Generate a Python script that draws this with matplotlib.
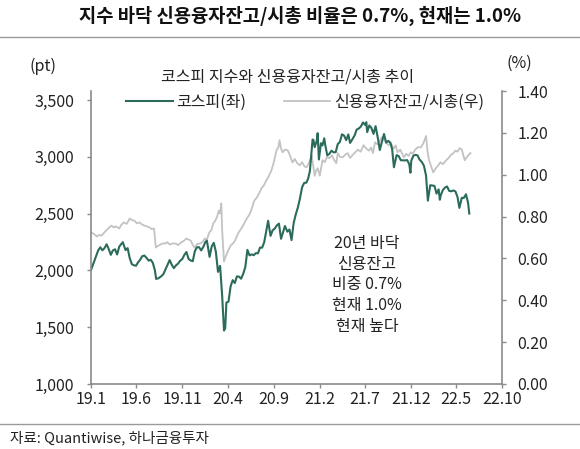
import matplotlib
matplotlib.use("Agg")
import matplotlib.pyplot as plt
from matplotlib.lines import Line2D
import pandas as pd

plt.rcParams['font.family'] = ['Noto Sans CJK KR', 'DejaVu Sans']

# ---------------- data ----------------
kospi_dates = [
    "2019-01-02","2019-01-11","2019-01-18","2019-01-25","2019-02-01","2019-02-08","2019-02-15","2019-02-22",
    "2019-02-28","2019-03-08","2019-03-15","2019-03-22","2019-03-29","2019-04-05","2019-04-12","2019-04-17",
    "2019-04-26","2019-05-03","2019-05-10","2019-05-17","2019-05-24","2019-05-31","2019-06-07","2019-06-14",
    "2019-06-21","2019-06-28","2019-07-05","2019-07-12","2019-07-19","2019-07-26","2019-08-02","2019-08-06",
    "2019-08-13","2019-08-23","2019-08-30","2019-09-06","2019-09-13","2019-09-20","2019-09-27","2019-10-04",
    "2019-10-11","2019-10-18","2019-10-25","2019-11-01","2019-11-08","2019-11-15","2019-11-22","2019-11-29",
    "2019-12-06","2019-12-13","2019-12-20","2019-12-27",
    "2020-01-03","2020-01-10","2020-01-17","2020-01-22","2020-01-31","2020-02-07","2020-02-14","2020-02-21",
    "2020-02-28","2020-03-06","2020-03-13","2020-03-19","2020-03-23","2020-03-27","2020-04-03","2020-04-10",
    "2020-04-17","2020-04-24","2020-05-01","2020-05-08","2020-05-15","2020-05-22","2020-05-29","2020-06-05",
    "2020-06-12","2020-06-19","2020-06-26","2020-07-03","2020-07-10","2020-07-17","2020-07-24","2020-07-31",
    "2020-08-07","2020-08-13","2020-08-21","2020-08-28","2020-09-04","2020-09-11","2020-09-18","2020-09-25",
    "2020-10-08","2020-10-16","2020-10-23","2020-10-30","2020-11-06","2020-11-13","2020-11-20","2020-11-27",
    "2020-12-04","2020-12-11","2020-12-18","2020-12-24","2020-12-30",
    "2021-01-08","2021-01-11","2021-01-15","2021-01-22","2021-01-25","2021-01-29","2021-02-05","2021-02-10",
    "2021-02-16","2021-02-19","2021-02-26","2021-03-05","2021-03-12","2021-03-19","2021-03-26","2021-04-02",
    "2021-04-09","2021-04-16","2021-04-23","2021-04-30","2021-05-07","2021-05-13","2021-05-21","2021-05-28",
    "2021-06-04","2021-06-11","2021-06-18","2021-06-25","2021-07-02","2021-07-06","2021-07-09","2021-07-16",
    "2021-07-23","2021-07-30","2021-08-06","2021-08-13","2021-08-20","2021-08-27","2021-09-03","2021-09-10",
    "2021-09-17","2021-09-24","2021-09-30","2021-10-06","2021-10-15","2021-10-22","2021-10-29","2021-11-05",
    "2021-11-12","2021-11-19","2021-11-26","2021-11-30","2021-12-03","2021-12-10","2021-12-17","2021-12-24",
    "2021-12-30",
    "2022-01-07","2022-01-14","2022-01-21","2022-01-27","2022-02-04","2022-02-11","2022-02-18","2022-02-25",
    "2022-03-04","2022-03-08","2022-03-11","2022-03-18","2022-03-25","2022-04-01","2022-04-08","2022-04-15",
    "2022-04-22","2022-04-29","2022-05-06","2022-05-12","2022-05-20","2022-05-27","2022-06-03","2022-06-10",
    "2022-06-14",
]
kospi_values = [
    2010, 2075, 2125, 2177, 2203, 2177, 2196, 2230,
    2195, 2137, 2176, 2186, 2140, 2209, 2233, 2248,
    2179, 2196, 2108, 2055, 2045, 2041, 2072, 2095,
    2126, 2130, 2110, 2086, 2094, 2066, 1998, 1925,
    1930, 1948, 1967, 2009, 2049, 2091, 2049, 2020,
    2044, 2060, 2085, 2100, 2137, 2162, 2101, 2087,
    2081, 2170, 2204, 2204,
    2176, 2206, 2250, 2262, 2119, 2211, 2243, 2162,
    1987, 2040, 1771, 1470, 1490, 1717, 1725, 1860,
    1914, 1889, 1947, 1945, 1927, 1970, 2029, 2181,
    2132, 2141, 2134, 2152, 2150, 2201, 2200, 2249,
    2351, 2437, 2304, 2353, 2368, 2396, 2412, 2278,
    2391, 2341, 2360, 2267, 2416, 2493, 2553, 2633,
    2731, 2770, 2772, 2806, 2873,
    3152, 3148, 3085, 3140, 3208, 2976, 3120, 3100,
    3163, 3107, 3013, 3026, 3054, 3039, 3041, 3112,
    3131, 3198, 3186, 3147, 3197, 3122, 3156, 3188,
    3240, 3249, 3267, 3302, 3281, 3305, 3217, 3276,
    3254, 3202, 3270, 3171, 3060, 3133, 3201, 3125,
    3140, 3125, 3068, 2908, 3015, 3006, 2970, 2969,
    2968, 2971, 2936, 2860, 2968, 3010, 3017, 3012,
    2977,
    2954, 2921, 2834, 2614, 2750, 2747, 2744, 2676,
    2713, 2622, 2661, 2707, 2729, 2739, 2700, 2696,
    2704, 2695, 2644, 2550, 2639, 2638, 2670, 2595,
    2500,
]

ratio_dates = [
    "2019-01-02","2019-01-12","2019-01-20","2019-01-28","2019-02-05","2019-02-13","2019-02-20","2019-03-01",
    "2019-03-10","2019-03-18","2019-03-25","2019-04-05","2019-04-12","2019-04-20","2019-04-30","2019-05-10",
    "2019-05-18","2019-05-25","2019-06-03","2019-06-12","2019-06-20","2019-06-28","2019-07-08","2019-07-15",
    "2019-07-22","2019-07-30","2019-08-05","2019-08-12","2019-08-20","2019-08-28","2019-09-05","2019-09-12",
    "2019-09-20","2019-09-30","2019-10-10","2019-10-18","2019-10-28","2019-11-06","2019-11-15","2019-11-22",
    "2019-11-29","2019-12-06","2019-12-12","2019-12-20","2019-12-30",
    "2020-01-08","2020-01-15","2020-01-22","2020-01-30","2020-02-06","2020-02-12","2020-02-18","2020-02-24",
    "2020-03-02","2020-03-06","2020-03-10","2020-03-13","2020-03-16","2020-03-19","2020-03-25","2020-04-02",
    "2020-04-10","2020-04-18","2020-04-25","2020-05-05","2020-05-18","2020-05-28","2020-06-05","2020-06-12",
    "2020-06-20","2020-06-28","2020-07-06","2020-07-14","2020-07-22","2020-07-30","2020-08-07","2020-08-14",
    "2020-08-24","2020-09-01","2020-09-10","2020-09-16","2020-09-20","2020-09-25","2020-09-30","2020-10-08",
    "2020-10-17","2020-10-24","2020-11-02","2020-11-10","2020-11-18","2020-11-26","2020-12-04","2020-12-12",
    "2020-12-19","2020-12-28",
    "2021-01-05","2021-01-10","2021-01-15","2021-01-20","2021-01-25","2021-02-01","2021-02-10","2021-02-18",
    "2021-02-25","2021-03-05","2021-03-14","2021-03-21","2021-03-28","2021-04-02","2021-04-10","2021-04-18",
    "2021-04-26","2021-05-05","2021-05-13","2021-05-22","2021-05-30","2021-06-08","2021-06-17","2021-06-27",
    "2021-07-06","2021-07-15","2021-07-22","2021-07-28","2021-08-04","2021-08-12","2021-08-20","2021-08-26",
    "2021-09-01","2021-09-08","2021-09-17","2021-09-26","2021-10-05","2021-10-12","2021-10-18","2021-10-27",
    "2021-11-08","2021-11-16","2021-11-24","2021-12-01","2021-12-08","2021-12-16","2021-12-24","2022-01-04",
    "2022-01-12","2022-01-21","2022-01-26","2022-01-31","2022-02-07","2022-02-14","2022-02-22","2022-03-03",
    "2022-03-10","2022-03-18","2022-03-29","2022-04-06","2022-04-14","2022-04-22","2022-04-29","2022-05-06",
    "2022-05-13","2022-05-20","2022-05-30","2022-06-06","2022-06-12","2022-06-18",
]
ratio_values = [
    0.724, 0.716, 0.705, 0.712, 0.709, 0.722, 0.733, 0.745,
    0.757, 0.748, 0.753, 0.743, 0.760, 0.772, 0.765, 0.791,
    0.783, 0.781, 0.768, 0.772, 0.762, 0.757, 0.752, 0.748,
    0.740, 0.743, 0.652, 0.660, 0.666, 0.672, 0.671, 0.678,
    0.666, 0.672, 0.671, 0.664, 0.676, 0.684, 0.695, 0.690,
    0.686, 0.664, 0.652, 0.668, 0.671,
    0.680, 0.695, 0.690, 0.724, 0.735, 0.767, 0.778, 0.796,
    0.829, 0.815, 0.863, 0.733, 0.660, 0.585, 0.610, 0.638,
    0.661, 0.672, 0.686, 0.720, 0.748, 0.775, 0.796, 0.810,
    0.840, 0.877, 0.890, 0.911, 0.935, 0.950, 0.973, 0.990,
    1.021, 1.060, 1.117, 1.130, 1.165, 1.125, 1.107, 1.120,
    1.117, 1.095, 1.059, 1.075, 1.055, 1.045, 1.060, 1.040,
    1.035, 1.059,
    1.093, 1.045, 0.995, 1.020, 1.031, 0.995, 1.069, 1.060,
    1.085, 1.079, 1.093, 1.070, 1.055, 1.103, 1.085, 1.083,
    1.095, 1.103, 1.080, 1.095, 1.107, 1.120, 1.110, 1.141,
    1.125, 1.115, 1.130, 1.103, 1.155, 1.145, 1.160, 1.179,
    1.170, 1.160, 1.141, 1.150, 1.125, 1.140, 1.107, 1.120,
    1.083, 1.100, 1.090, 1.107, 1.100, 1.120, 1.131, 1.131,
    1.150, 1.185, 1.110, 1.069, 1.040, 1.011, 1.030, 1.045,
    1.060, 1.050, 1.069, 1.080, 1.095, 1.103, 1.115, 1.110,
    1.127, 1.120, 1.069, 1.085, 1.095, 1.103,
]

x_tick_dates = ["2019-01-01","2019-06-01","2019-11-01","2020-04-01","2020-09-01",
                "2021-02-01","2021-07-01","2021-12-01","2022-05-01","2022-10-01"]
x_tick_labels = ["19.1","19.6","19.11","20.4","20.9","21.2","21.7","21.12","22.5","22.10"]
left_ticks = [1000, 1500, 2000, 2500, 3000, 3500]
right_ticks = [0.0, 0.2, 0.4, 0.6, 0.8, 1.0, 1.2, 1.4]

# ---------------- figure ----------------
W, H = 580, 449
fig = plt.figure(figsize=(W/100, H/100), dpi=100)
L, R, B, T = 91, 502, 384, 91
ax = fig.add_axes([L/W, 1-B/H, (R-L)/W, (B-T)/H])
ax2 = ax.twinx()

green = "#2b6b5c"
gray = "#c3c3c3"
axcol = "#8a8a8a"
txtcol = "#222222"
fs = 11.5

kd = pd.to_datetime(kospi_dates)
rd = pd.to_datetime(ratio_dates)
ax2.plot(rd, ratio_values, color=gray, lw=1.3)
ax.plot(kd, kospi_values, color=green, lw=1.5)
ax.set_zorder(ax2.get_zorder() + 1)
ax.patch.set_visible(False)

top_val = 1000 + (B - T) / (B - 100) * 2500
ax.set_ylim(1000, top_val)
ax2.set_ylim(0, 1.40)
ax.set_xlim(pd.Timestamp("2019-01-01"), pd.Timestamp("2022-10-01"))

ax.set_yticks(left_ticks)
ax.set_yticklabels([f"{v:,}" for v in left_ticks])
ax2.set_yticks(right_ticks)
ax2.set_yticklabels([f"{v:.2f}" for v in right_ticks])
ax.set_xticks(pd.to_datetime(x_tick_dates))
ax.set_xticklabels(x_tick_labels)

for a in (ax, ax2):
    for s in a.spines.values():
        s.set_color(axcol)
        s.set_linewidth(1.2)
    a.spines['top'].set_visible(False)
    a.tick_params(colors=axcol, labelcolor=txtcol, labelsize=fs, length=3, width=1.0)
ax.spines['right'].set_visible(False)
ax2.spines['left'].set_visible(False)
ax2.spines['bottom'].set_visible(False)
ax.tick_params(axis='y', pad=9)
ax2.tick_params(axis='y', pad=8)
ax.tick_params(axis='x', pad=2)

# legend
handles = [Line2D([], [], color=green, lw=1.5), Line2D([], [], color=gray, lw=1.3)]
fig.legend(handles, ["코스피(좌)", "신용융자잔고/시총(우)"], ncol=2, frameon=False,
           loc="center", bbox_to_anchor=(305/W, 1-102/H), fontsize=fs,
           handlelength=2.9, handletextpad=0.2, columnspacing=2.4, labelcolor=txtcol)

# texts
fig.text(300/W, 1-16/H, "지수 바닥 신용융자잔고/시총 비율은 0.7%, 현재는 1.0%",
         ha="center", va="center", fontsize=13.5, fontweight="bold", color="#111111")
fig.text(288/W, 1-77/H, "코스피 지수와 신용융자잔고/시총 추이",
         ha="center", va="center", fontsize=fs, color=txtcol)
fig.text(43/W, 1-66/H, "(pt)", ha="center", va="center", fontsize=fs, color=txtcol)
fig.text(519/W, 1-63/H, "(%)", ha="center", va="center", fontsize=fs, color=txtcol)
fig.text(367/W, 1-285/H, "20년 바닥\n신용잔고\n비중 0.7%\n현재 1.0%\n현재 높다",
         ha="center", va="center", fontsize=fs, color=txtcol, linespacing=1.3)
fig.text(10/W, 1-438/H, "자료: Quantiwise, 하나금융투자", ha="left", va="center",
         fontsize=10.5, color=txtcol)

fig.add_artist(Line2D([0, 1], [1-37/H, 1-37/H], color="#9a9a9a", lw=1.0, transform=fig.transFigure))
fig.add_artist(Line2D([0, 1], [1-424/H, 1-424/H], color="#9a9a9a", lw=1.0, transform=fig.transFigure))

fig.savefig("out.png", dpi=100)
